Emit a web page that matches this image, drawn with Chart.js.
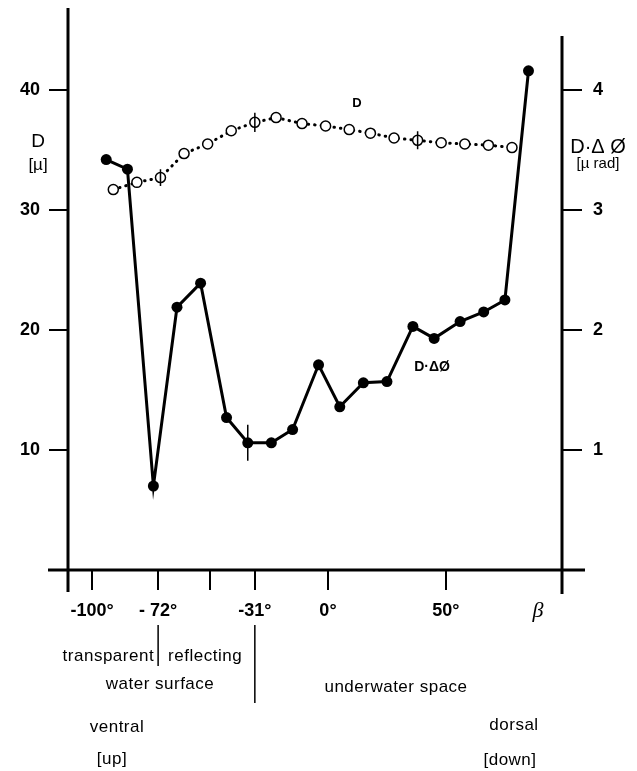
<!DOCTYPE html>
<html>
<head>
<meta charset="utf-8">
<script src="https://cdn.jsdelivr.net/npm/chart.js@4.4.1/dist/chart.umd.min.js"></script>
<style>
    body { margin: 0; background: #fff; }
    canvas { display: block; }
</style>
</head>
<body>
<canvas id="fig" width="637" height="771"></canvas>
<script>
// angle beta (deg) and D [micrometre] for the open circles
const dAngles = [-91, -81, -71, -61, -51, -41, -31, -22, -11, -1, 9, 18, 28, 38, 48, 58, 68, 78];
const dValues = [31.7, 32.3, 32.7, 34.7, 35.5, 36.6, 37.3, 37.7, 37.2, 37.0, 36.7, 36.4, 36.0, 35.8, 35.6, 35.5, 35.4, 35.2];

// angle beta (deg) and D·ΔØ [µrad] for the filled dots
const prodAngles = [-94, -85, -74, -64, -54, -43, -34, -24, -15, -4, 5, 15, 25, 36, 45, 56, 66, 75, 85];
const prodValues = [3.42, 3.34, 0.70, 2.19, 2.39, 1.27, 1.06, 1.06, 1.17, 1.71, 1.36, 1.56, 1.57, 2.03, 1.93, 2.07, 2.15, 2.25, 4.16];

// error bars: index into the series above + half length
const dErrIndex = [2, 6, 13];
const dErrHalf = [0.7, 0.8, 0.75];
const prodErrIndex = [6];
const prodErrHalf = [0.15];

// ticks
const xTicks = [-100, -72, -50, -31, 0, 50];
const xTickLabels = ["-100°", "- 72°", "", "-31°", "0°", "50°"];
const dTicks = [10, 20, 30, 40];
const prodTicks = [1, 2, 3, 4];

// boundaries of the visual field regions (deg)
const regionBounds = [-72, -31];

Chart.defaults.font.family = "'Liberation Sans', Arial, sans-serif";
Chart.defaults.color = "#000";

const dPoints = dAngles.map((a, i) => ({ x: a, y: dValues[i] }));
const prodPoints = prodAngles.map((a, i) => ({ x: a, y: prodValues[i] }));

function text(ctx, str, x, y, font, align) {
    ctx.font = font;
    ctx.textAlign = align || "center";
    ctx.textBaseline = "middle";
    ctx.fillText(str, x, y);
}

// no label overflow padding, the axes sit where the figure has them
function noPad(s) {
    s.paddingTop = 0;
    s.paddingBottom = 0;
    s.paddingLeft = 0;
    s.paddingRight = 0;
}

const extras = {
    id: "extras",
    afterDraw(chart) {
        const ctx = chart.ctx;
        const xs = chart.scales.x;
        const yl = chart.scales.yD;
        const yr = chart.scales.yP;
        const area = chart.chartArea;
        ctx.save();
        ctx.strokeStyle = "#000";
        ctx.fillStyle = "#000";
        ctx.lineCap = "butt";

        // axis lines
        ctx.lineWidth = 3;
        ctx.beginPath();
        ctx.moveTo(area.left, area.top);
        ctx.lineTo(area.left, area.bottom + 22);
        ctx.moveTo(area.right, yr.getPixelForValue(4.45));
        ctx.lineTo(area.right, area.bottom + 24);
        ctx.moveTo(area.left - 20, area.bottom);
        ctx.lineTo(area.right + 23, area.bottom);
        ctx.stroke();

        // error bars
        ctx.lineWidth = 1.5;
        ctx.beginPath();
        dErrIndex.forEach((idx, i) => {
            const px = xs.getPixelForValue(dAngles[idx]);
            ctx.moveTo(px, yl.getPixelForValue(dValues[idx] - dErrHalf[i]));
            ctx.lineTo(px, yl.getPixelForValue(dValues[idx] + dErrHalf[i]));
        });
        prodErrIndex.forEach((idx, i) => {
            const px = xs.getPixelForValue(prodAngles[idx]);
            ctx.moveTo(px, yr.getPixelForValue(prodValues[idx] - prodErrHalf[i]));
            ctx.lineTo(px, yr.getPixelForValue(prodValues[idx] + prodErrHalf[i]));
        });
        ctx.stroke();

        // series labels
        text(ctx, "D", 357, 103, "bold 13px 'Liberation Sans'");
        text(ctx, "D·ΔØ", 432, 367, "bold 14px 'Liberation Sans'");

        // axis titles
        text(ctx, "D", 38, 142, "19px 'Liberation Sans'");
        text(ctx, "[µ]", 38, 165, "17px 'Liberation Sans'");
        text(ctx, "D·Δ Ø", 598, 147, "20px 'Liberation Sans'");
        text(ctx, "[µ rad]", 598, 164, "15px 'Liberation Sans'");
        text(ctx, "β", 538, 611, "italic 22px 'Liberation Serif'");

        // region separators below the axis
        ctx.lineWidth = 1.5;
        ctx.beginPath();
        const b0 = xs.getPixelForValue(regionBounds[0]);
        const b1 = xs.getPixelForValue(regionBounds[1]);
        ctx.moveTo(b0, 625);
        ctx.lineTo(b0, 666);
        ctx.moveTo(b1, 625);
        ctx.lineTo(b1, 703);
        ctx.stroke();

        ctx.letterSpacing = "0.5px";
        const f = "17px 'Liberation Sans'";
        text(ctx, "transparent", b0 - 4, 656, f, "right");
        text(ctx, "reflecting", b0 + 10, 656, f, "left");
        text(ctx, "water surface", 160, 684, f);
        text(ctx, "underwater space", 396, 687, f);
        text(ctx, "ventral", 117, 727, f);
        text(ctx, "[up]", 112, 759, f);
        text(ctx, "dorsal", 514, 725, f);
        text(ctx, "[down]", 510, 760, f);
        ctx.restore();
    },
};

new Chart(document.getElementById("fig"), {
    type: "line",
    data: {
        datasets: [
            {
                label: "D·ΔØ",
                data: prodPoints,
                yAxisID: "yP",
                borderColor: "#000",
                backgroundColor: "#000",
                borderWidth: 3,
                pointRadius: 5.5,
                pointBorderWidth: 0,
                tension: 0,
            },
            {
                label: "D",
                data: dPoints,
                yAxisID: "yD",
                borderColor: "#000",
                borderWidth: 3,
                borderDash: [0.5, 6],
                borderCapStyle: "round",
                pointRadius: 5,
                pointBorderWidth: 1.5,
                pointBackgroundColor: "#fff",
                pointBorderColor: "#000",
                tension: 0,
            },
        ],
    },
    options: {
        responsive: false,
        animation: false,
        devicePixelRatio: 1,
        layout: { padding: { top: 8, left: 0, right: 0, bottom: 0 } },
        plugins: {
            legend: { display: false },
            tooltip: { enabled: false },
        },
        scales: {
            x: {
                type: "linear",
                min: -110.2,
                max: 99.2,
                afterFit: (s) => { s.height = 201; noPad(s); },
                afterBuildTicks: (s) => { s.ticks = xTicks.map((v) => ({ value: v })); },
                grid: {
                    drawOnChartArea: false,
                    drawTicks: true,
                    tickLength: 20,
                    color: "#000",
                    lineWidth: 2,
                },
                border: { display: false },
                ticks: {
                    padding: 10,
                    maxRotation: 0,
                    font: { size: 18, weight: "bold" },
                    callback: (v) => xTickLabels[xTicks.indexOf(v)],
                },
            },
            yD: {
                type: "linear",
                position: "left",
                min: 0,
                max: 46.83,
                afterFit: (s) => { s.width = 68; noPad(s); },
                afterBuildTicks: (s) => { s.ticks = dTicks.map((v) => ({ value: v })); },
                grid: {
                    drawOnChartArea: false,
                    tickLength: 19,
                    color: "#000",
                    lineWidth: 2,
                },
                border: { display: false },
                ticks: {
                    padding: 9,
                    font: { size: 18, weight: "bold" },
                },
            },
            yP: {
                type: "linear",
                position: "right",
                min: 0,
                max: 4.683,
                afterFit: (s) => { s.width = 75; noPad(s); },
                afterBuildTicks: (s) => { s.ticks = prodTicks.map((v) => ({ value: v })); },
                grid: {
                    drawOnChartArea: false,
                    tickLength: 20,
                    color: "#000",
                    lineWidth: 2,
                },
                border: { display: false },
                ticks: {
                    padding: 11,
                    font: { size: 18, weight: "bold" },
                },
            },
        },
    },
    plugins: [extras],
});
</script>
</body>
</html>
